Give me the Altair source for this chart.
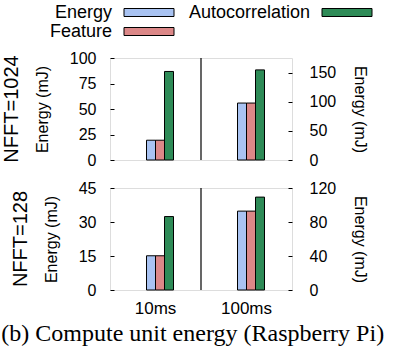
import altair as alt
import pandas as pd

periods = ["10ms", "100ms"]
series = ["Energy", "Feature", "Autocorrelation"]
legend_order = ["Energy", "Autocorrelation", "Feature"]
colors = {"Energy": "#a9c3f2", "Feature": "#dc8888", "Autocorrelation": "#2e8b57"}

# NFFT=1024
n1024_10ms = [19.4, 19.4, 86.8]
n1024_100ms = [97.7, 97.7, 154.6]
# NFFT=128
n128_10ms = [15.1, 15.1, 32.4]
n128_100ms = [92.8, 92.8, 109.3]

ticks_1024_left = [0, 25, 50, 75, 100]
ticks_1024_right = [0, 50, 100, 150]
ticks_128_left = [0, 15, 30, 45]
ticks_128_right = [0, 40, 80, 120]
dom_1024_left = [0, 100]
dom_1024_right = [0, 175]
dom_128_left = [0, 45]
dom_128_right = [0, 120]

FONT = "Liberation Sans"
W, H = 182, 102

color_scale = alt.Scale(domain=series, range=[colors[s] for s in series])


def frame(period, vals):
    return pd.DataFrame({"period": period, "series": series, "value": vals})


def x_enc(show_labels):
    if show_labels:
        ax = alt.Axis(ticks=False, domain=False, labelFontSize=17, labelPadding=10,
                      labelFont=FONT, labelColor="black", title=None, labelAngle=0)
    else:
        ax = None
    return alt.X("period:N", scale=alt.Scale(domain=periods, paddingInner=0, paddingOuter=0),
                 axis=ax, title=None)


xoff = alt.XOffset("series:N",
                   scale=alt.Scale(domain=series, range=[36.5, 63.5], paddingInner=0, paddingOuter=0))

color_enc = alt.Color("series:N", scale=color_scale, legend=None)


def y_axis(orient, values, pad, tpad):
    return alt.Axis(orient=orient, values=values, tickSize=4, offset=-4, domain=False,
                    tickColor="black", labelFontSize=16, labelFont=FONT, labelColor="black",
                    labelPadding=pad, grid=False, title="Energy (mJ)", titleFontSize=16,
                    titleFont=FONT, titleFontWeight="normal", titleColor="black",
                    titlePadding=tpad)


def row(vals10, vals100, dl, dr, tl, tr, nfft, bottom):
    b10 = alt.Chart(frame("10ms", vals10)).mark_bar(stroke="black", strokeWidth=1).encode(
        x=x_enc(bottom), xOffset=xoff,
        y=alt.Y("value:Q", scale=alt.Scale(domain=dl, nice=False),
                axis=y_axis("left", tl, 14, 19)),
        color=color_enc)
    b100 = alt.Chart(frame("100ms", vals100)).mark_bar(stroke="black", strokeWidth=1).encode(
        x=x_enc(bottom), xOffset=xoff,
        y=alt.Y("value:Q", scale=alt.Scale(domain=dr, nice=False),
                axis=y_axis("right", tr, 17, 16)),
        color=color_enc)
    sep = alt.Chart(pd.DataFrame({"p": ["100ms"]})).mark_rule(color="black", strokeWidth=1.2).encode(
        x=alt.X("p:N", bandPosition=0))
    return alt.layer(b10, b100, sep).resolve_scale(y="independent").properties(
        width=W, height=H,
        title=alt.TitleParams(nfft, orient="left", fontSize=20, font=FONT,
                              fontWeight="normal", color="black", offset=12.5))


# custom legend: label to the left of its swatch, two entries per row
leg_df = pd.DataFrame({
    "series": legend_order,
    "col": [i % 2 for i in range(len(legend_order))],
    "row": [i // 2 for i in range(len(legend_order))],
})
leg_base = alt.Chart(leg_df).encode(
    x=alt.X("col:Q", scale=alt.Scale(domain=[0, 1], range=[14, 212]), axis=None),
    y=alt.Y("row:Q", scale=alt.Scale(domain=[0, 1], range=[12.5, 31.5]), axis=None),
)
leg_sw = leg_base.mark_point(shape="M0,-0.16H2V0.16H0Z", size=2500, filled=True,
                             stroke="black", strokeWidth=1, opacity=1, fillOpacity=1).encode(
    color=color_enc)
leg_tx = leg_base.mark_text(align="right", baseline="middle", dx=-12, fontSize=18,
                            font=FONT, color="black").encode(text="series:N")
legend = alt.layer(leg_sw, leg_tx).properties(width=W, height=36,
                                              view=alt.ViewBackground(stroke=None))

top = row(n1024_10ms, n1024_100ms, dom_1024_left, dom_1024_right,
          ticks_1024_left, ticks_1024_right, "NFFT=1024", False)
bot = row(n128_10ms, n128_100ms, dom_128_left, dom_128_right,
          ticks_128_left, ticks_128_right, "NFFT=128", True)

panels = alt.vconcat(top, bot, spacing=10)

chart = alt.vconcat(legend, panels, spacing=8).properties(
    title=alt.TitleParams("(b) Compute unit energy (Raspberry Pi)", orient="bottom",
                          font="Liberation Serif", fontSize=24, fontWeight="normal",
                          color="black", offset=5),
    padding={"left": 1, "top": 0, "right": 2, "bottom": 4},
).configure_view(stroke="black", strokeWidth=1.3).configure(background="white")

chart.save("out.html", embed_options={"renderer": "svg", "actions": False})
